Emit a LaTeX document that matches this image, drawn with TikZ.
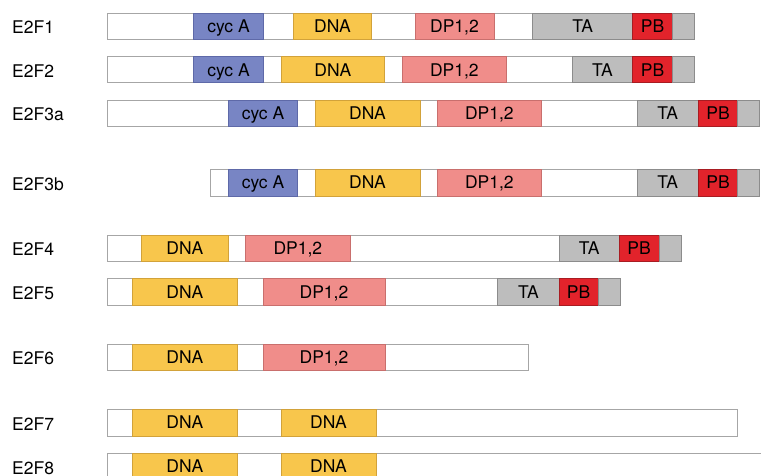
\documentclass[tikz,border=0pt]{standalone}
\usepackage{fontspec}
\setmainfont{TeX Gyre Heros}

\definecolor{barline}{HTML}{A6A6A6}
\definecolor{cycfill}{HTML}{7885C4}
\definecolor{cycline}{HTML}{5E69A8}
\definecolor{dnafill}{HTML}{F8C64C}
\definecolor{dnaline}{HTML}{D2A23A}
\definecolor{dpfill}{HTML}{F08D8A}
\definecolor{dpline}{HTML}{C96F6D}
\definecolor{tafill}{HTML}{BDBDBD}
\definecolor{taline}{HTML}{8C8C8C}
\definecolor{pbfill}{HTML}{E2232B}
\definecolor{pbline}{HTML}{A81C22}

\tikzset{
  seg/.style={line width=0.8pt, inner sep=0pt, outer sep=0pt,
    font=\fontsize{17.5}{17.5}\selectfont, text height=12.6pt, text depth=0pt},
  barbox/.style={seg, draw=barline, fill=white},
  cycbox/.style={seg, draw=cycline, fill=cycfill},
  dnabox/.style={seg, draw=dnaline, fill=dnafill},
  dpbox/.style={seg, draw=dpline, fill=dpfill},
  tabox/.style={seg, draw=taline, fill=tafill},
  pbbox/.style={seg, draw=pbline, fill=pbfill},
  rowlabel/.style={anchor=west, inner sep=0pt,
    font=\fontsize{17.5}{17.5}\selectfont, text height=12.6pt, text depth=0pt}
}

% \seg{style}{name}{x1}{x2}{y1}{y2}{text}: a box spanning x1..x2, y1..y2
\newcommand\seg[7]{%
  \pgfmathsetmacro\segw{#4-#3}%
  \pgfmathsetmacro\segh{#6-#5}%
  \node[#1, minimum width=\segw pt, minimum height=\segh pt]
    (#2) at ({(#3+#4)/2},{(#5+#6)/2}) {#7};}

% \ta{row}{x1}{x2}{x3}{x4}{y1}{y2}: transactivation part with pocket-binding box and tail
\newcommand\ta[7]{%
  \seg{tabox}{#1ta}{#2}{#3}{#6}{#7}{TA}%
  \seg{pbbox}{#1pb}{#3}{#4}{#6}{#7}{PB}%
  \seg{tabox}{#1tail}{#4}{#5}{#6}{#7}{}}

\begin{document}
\begin{tikzpicture}[x=1pt, y=-1pt]
  \useasboundingbox (0,0) rectangle (761,475);
  \clip (0,0) rectangle (761,475);

  % E2F1
  \node[rowlabel] (l1) at (12,27.5) {E2F1};
  \seg{barbox}{b1}{107}{694}{13.3}{39.3}{}
  \seg{cycbox}{r1cyc}{193.7}{263.3}{13.3}{39.3}{cyc A}
  \seg{dnabox}{r1dna}{293.3}{371.7}{13.3}{39.3}{DNA}
  \seg{dpbox}{r1dp}{415}{494}{13.3}{39.3}{DP1,2}
  \ta{r1}{532.7}{632.7}{672.3}{694}{13.3}{39.3}

  % E2F2
  \node[rowlabel] (l2) at (12,70.8) {E2F2};
  \seg{barbox}{b2}{107}{694}{56.7}{82.7}{}
  \seg{cycbox}{r2cyc}{193.7}{263.3}{56.7}{82.7}{cyc A}
  \seg{dnabox}{r2dna}{281}{384.7}{56.7}{82.7}{DNA}
  \seg{dpbox}{r2dp}{402}{506.7}{56.7}{82.7}{DP1,2}
  \ta{r2}{572}{632.7}{672.3}{694}{56.7}{82.7}

  % E2F3a
  \node[rowlabel] (l3) at (12,114.4) {E2F3a};
  \seg{barbox}{b3}{107}{759}{100}{126.7}{}
  \seg{cycbox}{r3cyc}{228.3}{297.7}{100}{126.7}{cyc A}
  \seg{dnabox}{r3dna}{315}{420}{100}{126.7}{DNA}
  \seg{dpbox}{r3dp}{437}{541.7}{100}{126.7}{DP1,2}
  \ta{r3}{637}{698.3}{737.7}{759}{100}{126.7}

  % E2F3b
  \node[rowlabel] (l4) at (12,183.7) {E2F3b};
  \seg{barbox}{b4}{210.7}{759}{169.3}{196}{}
  \seg{cycbox}{r4cyc}{228.3}{297.7}{169.3}{196}{cyc A}
  \seg{dnabox}{r4dna}{315}{420}{169.3}{196}{DNA}
  \seg{dpbox}{r4dp}{437}{541.7}{169.3}{196}{DP1,2}
  \ta{r4}{637}{698.3}{737.7}{759}{169.3}{196}

  % E2F4
  \node[rowlabel] (l5) at (12,249.2) {E2F4};
  \seg{barbox}{b5}{107}{681}{235}{261.3}{}
  \seg{dnabox}{r5dna}{141.3}{228.3}{235}{261.3}{DNA}
  \seg{dpbox}{r5dp}{245.7}{350}{235}{261.3}{DP1,2}
  \ta{r5}{559}{619.3}{659}{681}{235}{261.3}

  % E2F5
  \node[rowlabel] (l6) at (12,292.8) {E2F5};
  \seg{barbox}{b6}{107}{620}{278.3}{305.3}{}
  \seg{dnabox}{r6dna}{132.7}{237}{278.3}{305.3}{DNA}
  \seg{dpbox}{r6dp}{263}{385}{278.3}{305.3}{DP1,2}
  \ta{r6}{497.7}{559}{598.3}{620}{278.3}{305.3}

  % E2F6
  \node[rowlabel] (l7) at (12,358.2) {E2F6};
  \seg{barbox}{b7}{107}{528.7}{344}{370.3}{}
  \seg{dnabox}{r7dna}{132.7}{237}{344}{370.3}{DNA}
  \seg{dpbox}{r7dp}{263}{385}{344}{370.3}{DP1,2}

  % E2F7
  \node[rowlabel] (l8) at (12,423.7) {E2F7};
  \seg{barbox}{b8}{107}{737.7}{409.3}{436}{}
  \seg{dnabox}{r8dnaa}{132.7}{237}{409.3}{436}{DNA}
  \seg{dnabox}{r8dnab}{281}{376}{409.3}{436}{DNA}

  % E2F8
  \node[rowlabel] (l9) at (12,467.7) {E2F8};
  \seg{barbox}{b9}{107}{800}{453.3}{480}{}
  \seg{dnabox}{r9dnaa}{132.7}{237}{453.3}{480}{DNA}
  \seg{dnabox}{r9dnab}{281}{376}{453.3}{480}{DNA}
\end{tikzpicture}
\end{document}
